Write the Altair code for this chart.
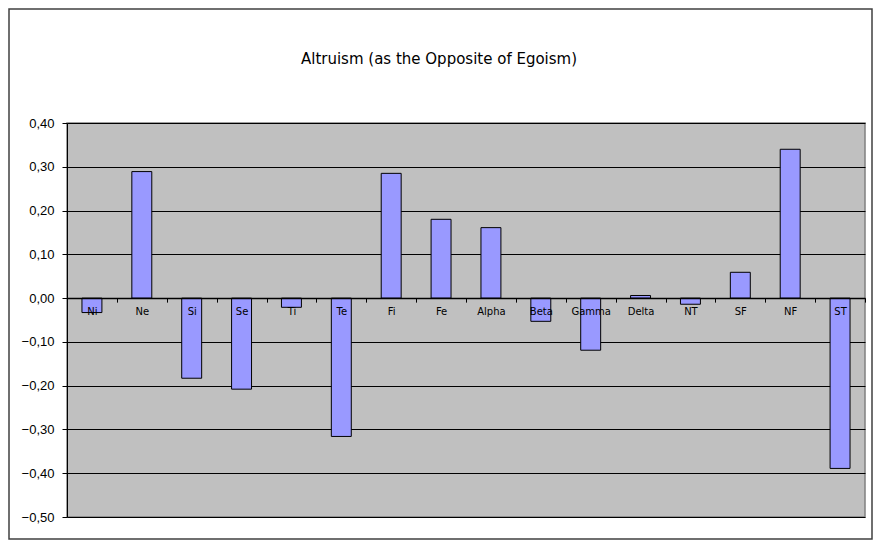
import altair as alt
import pandas as pd

categories = ["Ni", "Ne", "Si", "Se", "Ti", "Te", "Fi", "Fe", "Alpha", "Beta",
              "Gamma", "Delta", "NT", "SF", "NF", "ST"]
values = [-0.033, 0.289, -0.183, -0.208, -0.021, -0.316, 0.285, 0.180, 0.161,
          -0.053, -0.119, 0.006, -0.014, 0.059, 0.340, -0.389]
y_ticks = [-0.5, -0.4, -0.3, -0.2, -0.1, 0.0, 0.1, 0.2, 0.3, 0.4]
title_text = "Altruism (as the Opposite of Egoism)"

df = pd.DataFrame({"category": categories, "value": values})

W, H = 798, 394
y_min, y_max = -0.5, 0.4
zero_offset = -(0 - y_min) / (y_max - y_min) * H

bars = alt.Chart(df).mark_bar(
    width=alt.RelativeBandSize(0.4), fill="#9999FF", stroke="black", strokeWidth=1
).encode(
    x=alt.X("category:N", sort=categories,
            scale=alt.Scale(paddingInner=0, paddingOuter=0),
            axis=alt.Axis(title=None, orient="bottom", offset=zero_offset,
                          tickBand="extent", tickSize=4, tickColor="black",
                          domainColor="black", domainWidth=1.5,
                          labelFont="DejaVu Sans", labelFontSize=10,
                          labelColor="black", labelPadding=4, labelAngle=0,
                          zindex=1, grid=False)),
    y=alt.Y("value:Q",
            scale=alt.Scale(domain=[y_min, y_max], nice=False, zero=False),
            axis=alt.Axis(title=None, values=y_ticks,
                          labelExpr="replace(format(datum.value, '.2f'), '.', ',')",
                          labelFont="Liberation Sans", labelFontSize=13,
                          labelColor="black", labelPadding=8,
                          tickSize=5, tickColor="black",
                          domainColor="black", domainWidth=1,
                          grid=True, gridColor="black", gridWidth=1,
                          gridOpacity=1)),
)

frame = alt.Chart(alt.Data(values=[{}])).mark_rect(
    fill=None, stroke="#404040", strokeWidth=1.5
).encode(
    x=alt.value(-58), x2=alt.value(W + 7),
    y=alt.value(-114), y2=alt.value(H + 22),
)

title = alt.Chart(alt.Data(values=[{"t": title_text}])).mark_text(
    font="DejaVu Sans", fontSize=15, color="black", align="center",
    baseline="alphabetic"
).encode(
    x=alt.value(W / 2 - 27), y=alt.value(-59), text="t:N"
)

chart = alt.layer(bars, frame, title).properties(
    width=W, height=H,
    autosize="none",
    padding={"left": 59, "top": 115, "right": 9, "bottom": 23},
).configure(
    background="white"
).configure_view(
    fill="#C0C0C0", stroke="#808080", strokeWidth=1.5
)

chart.save("out.html", embed_options={"renderer": "svg", "actions": False})
